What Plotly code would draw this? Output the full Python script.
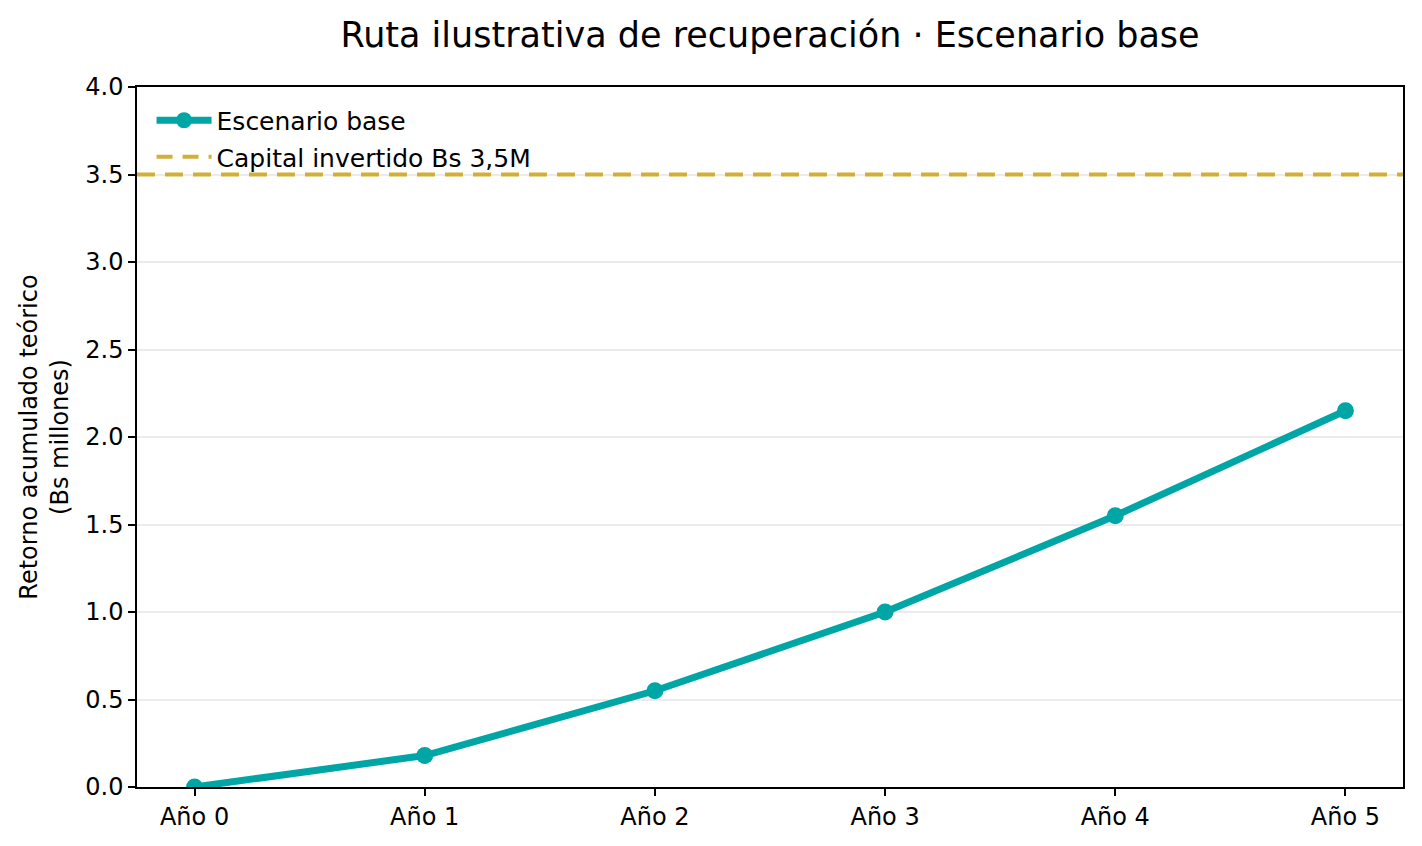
import plotly.graph_objects as go

# datos
anios = ["Año 0", "Año 1", "Año 2", "Año 3", "Año 4", "Año 5"]
retorno_base = [0.0, 0.18, 0.55, 1.0, 1.55, 2.15]
capital_invertido = 3.5

TEAL = "#00A6A6"
GOLD = "#D4AF37"
FONT = "DejaVu Sans, Arial, sans-serif"

x_pos = list(range(len(anios)))

fig = go.Figure()

fig.add_trace(
    go.Scatter(
        x=x_pos,
        y=retorno_base,
        mode="lines+markers",
        name="Escenario base",
        legendgroup="a",
        line=dict(color=TEAL, width=7),
        marker=dict(color=TEAL, size=17),
        cliponaxis=True,
    )
)

# línea del capital invertido (entrada de leyenda aparte)
fig.add_hline(
    y=capital_invertido,
    line=dict(color=GOLD, width=4, dash="18px,10px"),
    layer="above",
)
fig.add_trace(
    go.Scatter(
        x=[None],
        y=[None],
        mode="lines",
        name="Capital invertido Bs 3,5M",
        legendgroup="b",
        line=dict(color=GOLD, width=4, dash="16px,10px"),
    )
)

# la página añade 8px de margen al cuerpo: se compensa en los márgenes
fig.update_layout(
    width=1422,
    height=846,
    paper_bgcolor="white",
    plot_bgcolor="white",
    font=dict(family=FONT, size=24, color="black"),
    margin=dict(l=129, r=27, t=79, b=67),
    title=dict(
        text="Ruta ilustrativa de recuperación · Escenario base",
        xref="paper",
        x=0.5,
        xanchor="center",
        y=0.968,
        yanchor="middle",
        font=dict(size=35, color="black"),
    ),
    legend=dict(
        x=0.0115,
        y=0.985,
        xanchor="left",
        yanchor="top",
        bgcolor="rgba(0,0,0,0)",
        borderwidth=0,
        font=dict(size=25),
        itemwidth=55,
        traceorder="grouped",
        tracegroupgap=1,
    ),
    showlegend=True,
)

fig.update_xaxes(
    range=[-0.25, 5.25],
    tickvals=x_pos,
    ticktext=anios,
    showgrid=False,
    zeroline=False,
    showline=True,
    linecolor="black",
    linewidth=1.5,
    mirror=True,
    ticks="outside",
    ticklen=7,
    tickwidth=1.5,
    tickcolor="black",
    tickfont=dict(size=24),
)
fig.update_yaxes(
    range=[0, 4],
    dtick=0.5,
    tickformat=".1f",
    showgrid=True,
    gridcolor="#EBEBEB",
    gridwidth=1.5,
    zeroline=False,
    showline=True,
    linecolor="black",
    linewidth=1.5,
    mirror=True,
    ticks="outside",
    ticklen=7,
    tickwidth=1.5,
    tickcolor="black",
    tickfont=dict(size=24),
    title=dict(
        text="Retorno acumulado teórico<br>(Bs millones)",
        font=dict(size=24),
        standoff=10,
    ),
)

fig.write_html("out.html")
